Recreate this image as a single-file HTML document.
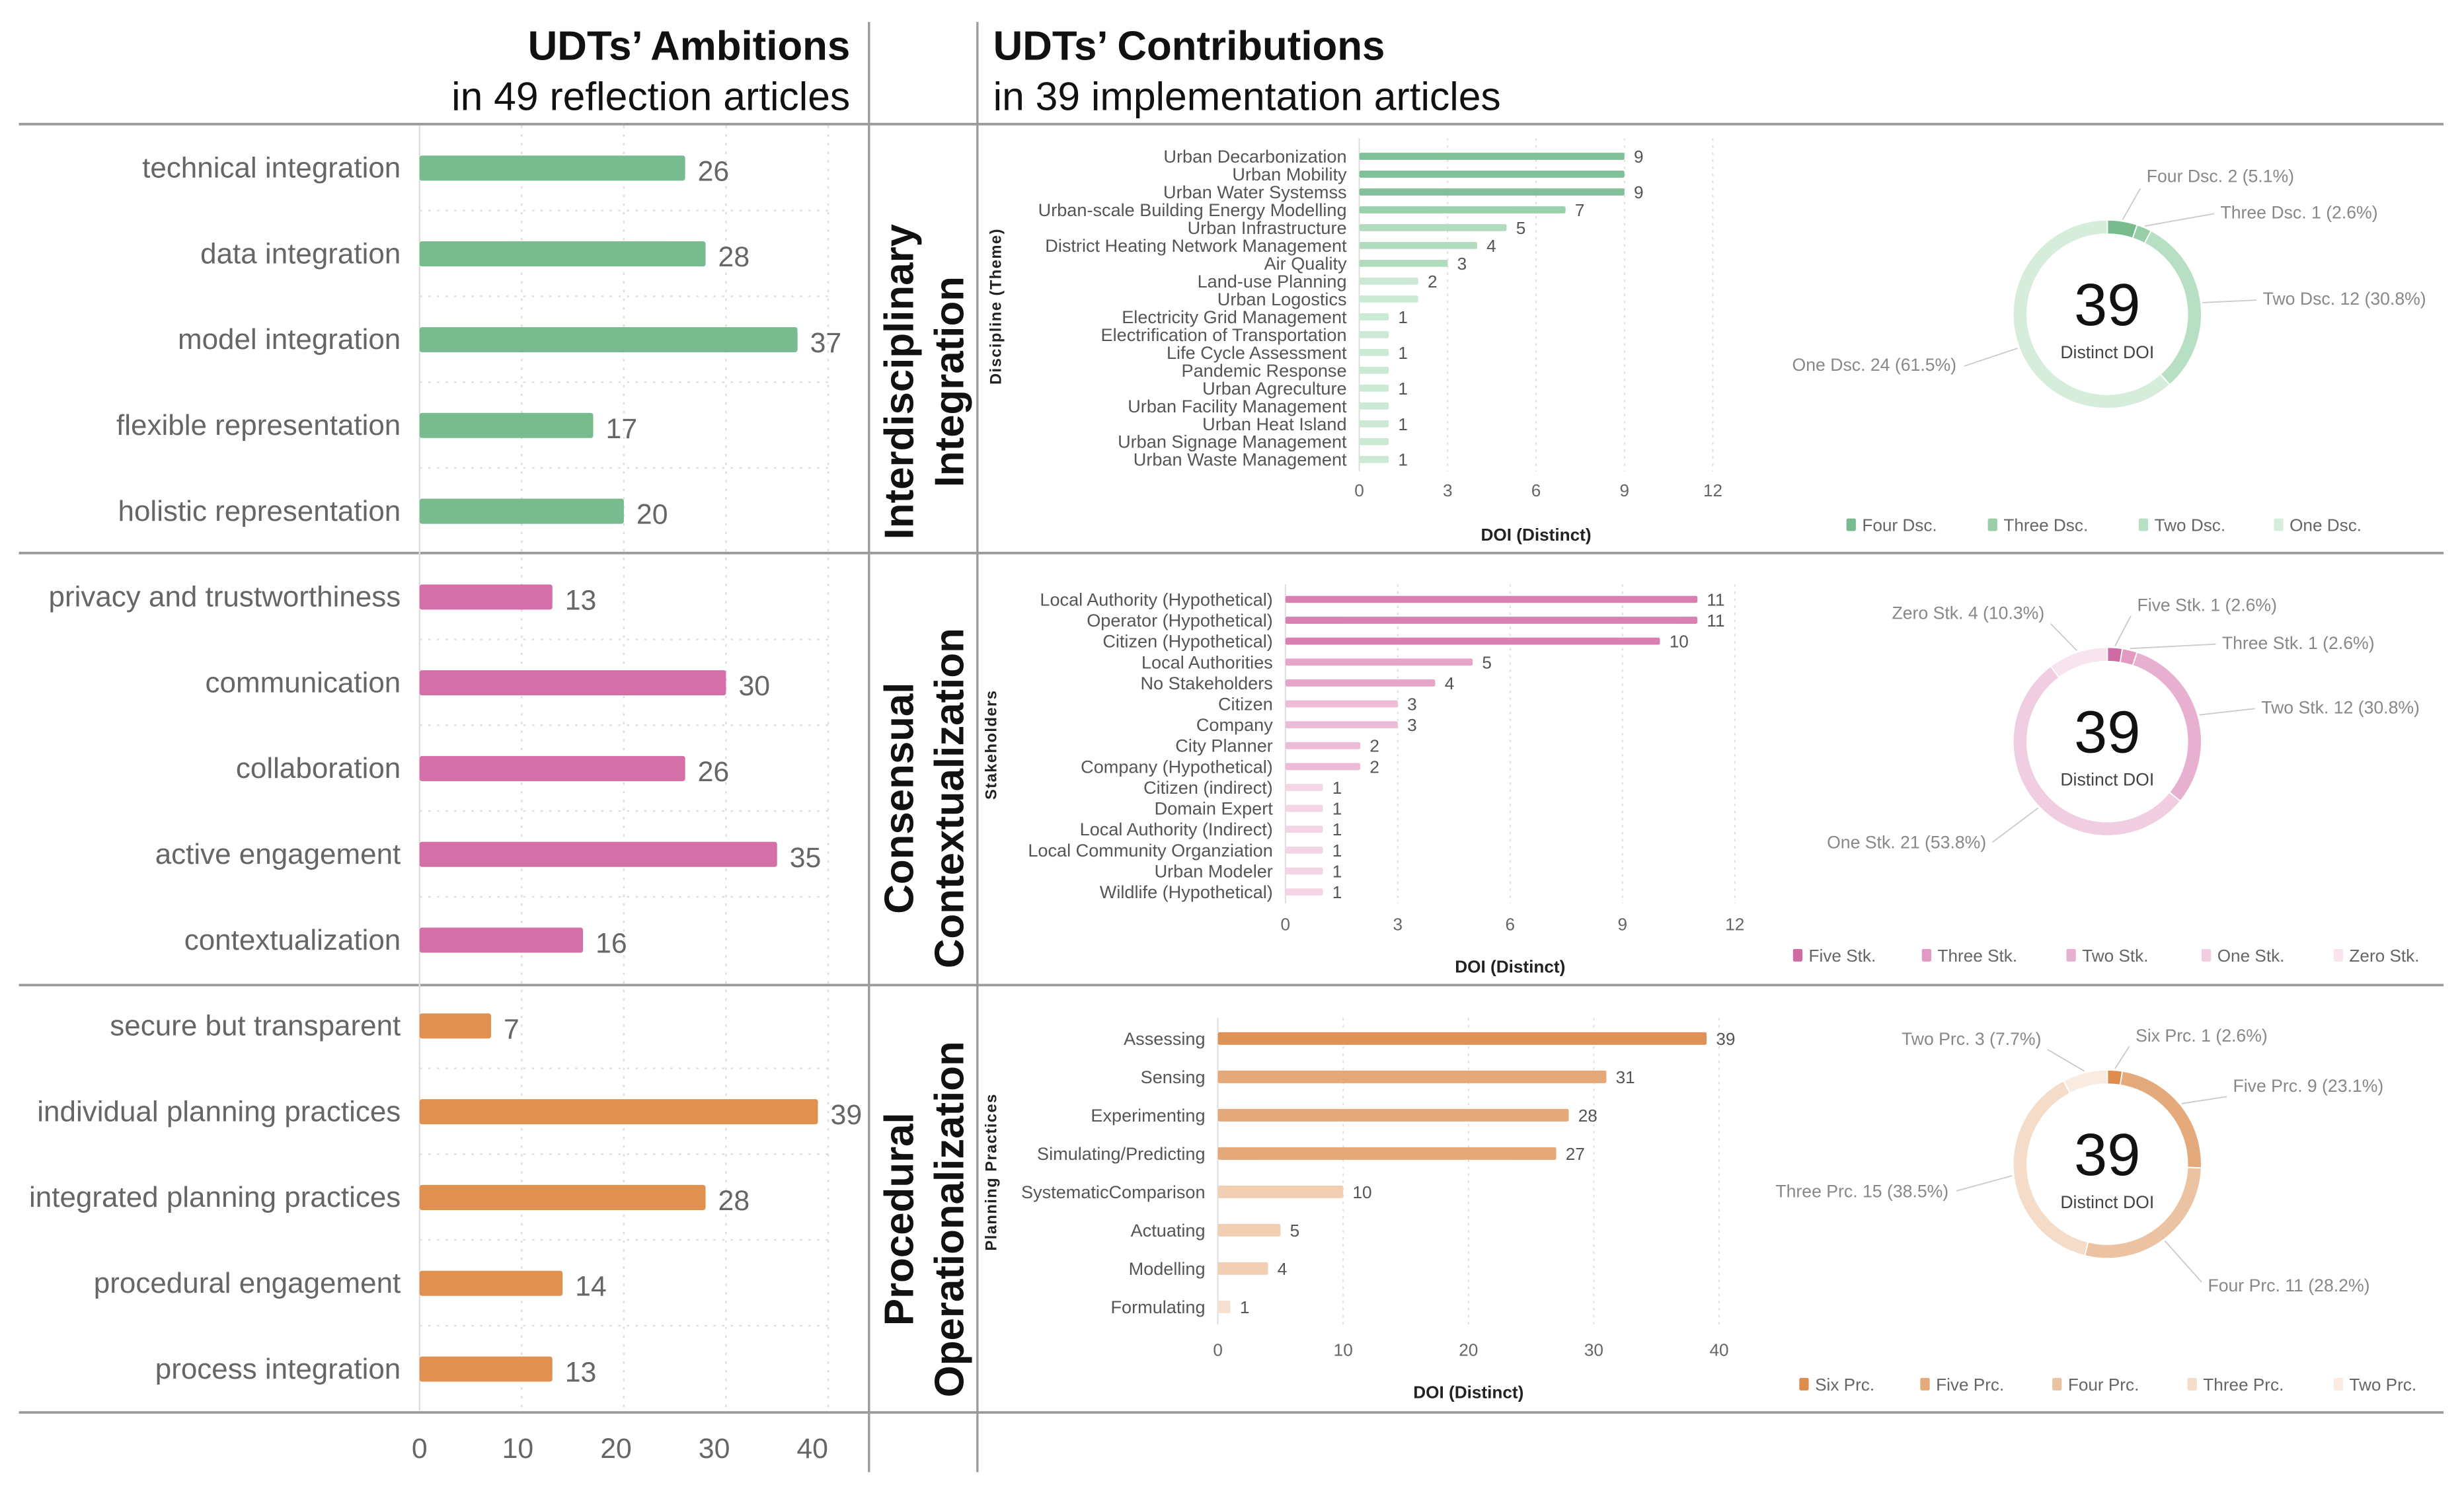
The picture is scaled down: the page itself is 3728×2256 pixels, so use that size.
<!DOCTYPE html>
<html><head><meta charset="utf-8"><style>
html,body{margin:0;padding:0;background:#fff;}
svg{display:block;font-family:"Liberation Sans",sans-serif;}
</style></head><body>
<svg id="c" width="3728" height="2256" viewBox="0 0 1568 949" preserveAspectRatio="none" xmlns="http://www.w3.org/2000/svg">
<g id="frame">
<line x1="12" y1="79" x2="1555" y2="79" stroke="#9a9a9a" stroke-width="1.6"/>
<line x1="12" y1="352" x2="1555" y2="352" stroke="#9a9a9a" stroke-width="1.6"/>
<line x1="12" y1="627" x2="1555" y2="627" stroke="#9a9a9a" stroke-width="1.6"/>
<line x1="12" y1="899" x2="1555" y2="899" stroke="#9a9a9a" stroke-width="1.6"/>
<line x1="553" y1="14" x2="553" y2="937" stroke="#9a9a9a" stroke-width="1.4"/>
<line x1="622" y1="14" x2="622" y2="937" stroke="#9a9a9a" stroke-width="1.4"/>
</g>
<text x="541" y="38" text-anchor="end" font-size="26" font-weight="bold" fill="#111">UDTs’ Ambitions</text>
<text x="541" y="70" text-anchor="end" font-size="25.5" fill="#111">in 49 reflection articles</text>
<text x="632" y="38" font-size="26" font-weight="bold" fill="#111">UDTs’ Contributions</text>
<text x="632" y="70" font-size="25.5" fill="#111">in 39 implementation articles</text>
<g font-size="26" font-weight="bold" fill="#111">
<text transform="translate(581,243) rotate(-90)" text-anchor="middle">Interdisciplinary</text>
<text transform="translate(613,243) rotate(-90)" text-anchor="middle">Integration</text>
<text transform="translate(581,508) rotate(-90)" text-anchor="middle">Consensual</text>
<text transform="translate(613,508) rotate(-90)" text-anchor="middle">Contextualization</text>
<text transform="translate(581,776) rotate(-90)" text-anchor="middle">Procedural</text>
<text transform="translate(613,776) rotate(-90)" text-anchor="middle">Operationalization</text>
</g>
</svg>
<script>
// ---- Left chart data ----
const ambCats = ["technical integration","data integration","model integration","flexible representation","holistic representation","privacy and trustworthiness","communication","collaboration","active engagement","contextualization","secure but transparent","individual planning practices","integrated planning practices","procedural engagement","process integration"];
const ambValues = [26,28,37,17,20,13,30,26,35,16,7,39,28,14,13];
const ambGroup = [0,0,0,0,0,1,1,1,1,1,2,2,2,2,2];
const ambTicks = [0,10,20,30,40];

// ---- Panel 1 data ----
const discCats = ["Urban Decarbonization","Urban Mobility","Urban Water Systemss","Urban-scale Building Energy Modelling","Urban Infrastructure","District Heating Network Management","Air Quality","Land-use Planning","Urban Logostics","Electricity Grid Management","Electrification of Transportation","Life Cycle Assessment","Pandemic Response","Urban Agreculture","Urban Facility Management","Urban Heat Island","Urban Signage Management","Urban Waste Management"];
const discValues = [9,9,9,7,5,4,3,2,2,1,1,1,1,1,1,1,1,1];
const discShow = [1,0,1,1,1,1,1,1,0,1,0,1,0,1,0,1,0,1];
const discTicks = [0,3,6,9,12];
const discDonutLabels = ["Four Dsc.","Three Dsc.","Two Dsc.","One Dsc."];
const discDonutValues = [2,1,12,24];

// ---- Panel 2 data ----
const stkCats = ["Local Authority (Hypothetical)","Operator (Hypothetical)","Citizen (Hypothetical)","Local Authorities","No Stakeholders","Citizen","Company","City Planner","Company (Hypothetical)","Citizen (indirect)","Domain Expert","Local Authority (Indirect)","Local Community Organziation","Urban Modeler","Wildlife (Hypothetical)"];
const stkValues = [11,11,10,5,4,3,3,2,2,1,1,1,1,1,1];
const stkTicks = [0,3,6,9,12];
const stkDonutLabels = ["Five Stk.","Three Stk.","Two Stk.","One Stk.","Zero Stk."];
const stkDonutValues = [1,1,12,21,4];

// ---- Panel 3 data ----
const prcCats = ["Assessing","Sensing","Experimenting","Simulating/Predicting","SystematicComparison","Actuating","Modelling","Formulating"];
const prcValues = [39,31,28,27,10,5,4,1];
const prcTicks = [0,10,20,30,40];
const prcDonutLabels = ["Six Prc.","Five Prc.","Four Prc.","Three Prc.","Two Prc."];
const prcDonutValues = [1,9,11,15,3];

const NS="http://www.w3.org/2000/svg";
const svg=document.getElementById('c');
function mk(tag,attrs,parent,text){const e=document.createElementNS(NS,tag);for(const k in attrs)e.setAttribute(k,attrs[k]);if(text!==undefined)e.textContent=text;(parent||svg).appendChild(e);return e;}

// ---- Left chart ----
(function(){
 const g=mk('g',{});
 
 
 const x0=267,x1=527,tmax=40;const sx=v=>x0+(x1-x0)*v/tmax;
 const y=i=>107+i*54.6;
 const cols=["#78bb8f","#d46fa7","#e0914f"];
 ambTicks.forEach(t=>{
  if(t>0){const l=mk('line',{x1:sx(t),x2:sx(t),y1:80,y2:898,stroke:'#ddd','stroke-dasharray':'1.5 4','stroke-width':1},g);
  }
  const tx=mk('text',{x:sx(t)-t*0.25,y:928,'text-anchor':'middle','font-size':18,fill:'#666'},g,String(t));
  
 });
 const ax=mk('line',{x1:x0,x2:x0,y1:80,y2:898,stroke:'#ddd','stroke-width':1},g);
 
 ambCats.forEach((c,i)=>{
  if(i%5!==4){const h=mk('line',{x1:x0,x2:x1,y1:y(i)+27,y2:y(i)+27,stroke:'#ddd','stroke-dasharray':'1.5 4'},g);
  }
  const lb=mk('text',{x:255,y:y(i)+6,'text-anchor':'end','font-size':18.5,fill:'#666'},g,c);
  
  const b=mk('rect',{x:x0,y:y(i)-8,width:sx(ambValues[i])-x0,height:16,rx:1.5,fill:cols[ambGroup[i]]},g);
  
  const v=mk('text',{x:sx(ambValues[i])+8,y:y(i)+8,'font-size':18,fill:'#666'},g,String(ambValues[i]));
  
 });
})();

function barPanel(o){
 const g=mk('g',{});
 
 
 const sx=v=>o.x0+(o.x1-o.x0)*v/o.tmax;
 const y=i=>o.y0+i*o.step;
 o.ticks.forEach(t=>{
  if(t>0){const l=mk('line',{x1:sx(t),x2:sx(t),y1:o.gy0,y2:o.gy1,stroke:'#ddd','stroke-dasharray':'1.5 3','stroke-width':0.8},g);
  }
  const tx=mk('text',{x:sx(t),y:o.tickY,'text-anchor':'middle','font-size':11,fill:'#666'},g,String(t));
  
 });
 const ax=mk('line',{x1:o.x0,x2:o.x0,y1:o.gy0,y2:o.gy1,stroke:'#ddd','stroke-width':0.8},g);
 
 o.cats.forEach((c,i)=>{
  const lb=mk('text',{x:o.x0-8,y:y(i)+4,'text-anchor':'end','font-size':11.4,fill:'#555'},g,c);
  
  const b=mk('rect',{x:o.x0,y:y(i)-o.bh/2,width:Math.max(sx(o.vals[i])-o.x0,0),height:o.bh,rx:1,fill:o.color(o.vals[i])},g);
  
  if(!o.show||o.show[i]){const v=mk('text',{x:sx(o.vals[i])+6,y:y(i)+4,'font-size':11,fill:'#555'},g,String(o.vals[i]));
  }
 });
 const t=mk('text',{x:(o.x0+o.x1)/2,y:o.titleY,'text-anchor':'middle','font-size':11,'font-weight':'bold',fill:'#222'},g,'DOI (Distinct)');
 
 const yt=mk('text',{transform:`translate(${o.ytX},${o.ytY}) rotate(-90)`,'text-anchor':'middle','font-size':10,'font-weight':'bold','letter-spacing':0.6,fill:'#222'},g,o.ytitle);
 
}

barPanel({name:'discipline-bar-chart',cats:discCats,vals:discValues,show:discShow,ticks:discTicks,tmax:12,x0:865,x1:1090,y0:99.5,step:11.35,bh:4.5,gy0:88,gy1:300,tickY:316,titleY:344,ytitle:'Discipline (Theme)',ytX:637,ytY:195,
 color:v=>v>=8?'#80c199':v>=6?'#9bd0ac':v>=3?'#b0dcbd':'#cbe9d4'});
barPanel({name:'stakeholder-bar-chart',cats:stkCats,vals:stkValues,ticks:stkTicks,tmax:12,x0:818,x1:1104,y0:381.5,step:13.3,bh:4.5,gy0:372,gy1:575,tickY:592,titleY:619,ytitle:'Stakeholders',ytX:634,ytY:474,
 color:v=>v>=10?'#d97fb1':v>=4?'#e6a6ca':v>=2?'#ecbcd7':'#f3d5e6'});
barPanel({name:'planning-practices-bar-chart',cats:prcCats,vals:prcValues,ticks:prcTicks,tmax:40,x0:775,x1:1094,y0:661,step:24.4,bh:8,gy0:648,gy1:843,tickY:863,titleY:890,ytitle:'Planning Practices',ytX:634,ytY:746,
 color:v=>v>=35?'#e09256':v>=20?'#e5a878':v>=3?'#f1cfb3':'#f6e0ce'});

function donut(o){
 const g=mk('g',{});
 
 
 const tot=o.vals.reduce((a,b)=>a+b,0);
 const R=o.r, w=o.w;
 let a=0;
 o.vals.forEach((v,i)=>{
  const a0=a/tot*2*Math.PI, a1=(a+v)/tot*2*Math.PI; a+=v;
  const p=(ang,r)=>[o.cx+r*Math.sin(ang),o.cy-r*Math.cos(ang)];
  const [x0,y0]=p(a0,R),[x1,y1]=p(a1,R),[x2,y2]=p(a1,R-w),[x3,y3]=p(a0,R-w);
  const large=(a1-a0)>Math.PI?1:0;
  const s=mk('path',{d:`M${x0},${y0}A${R},${R} 0 ${large} 1 ${x1},${y1}L${x2},${y2}A${R-w},${R-w} 0 ${large} 0 ${x3},${y3}Z`,fill:o.colors[i],stroke:'#fff','stroke-width':0.8},g);
  
  const L=o.lab[i];
  const mid=(a0+a1)/2;const [mx,my]=p(mid,R+1);
  const ln=mk('line',{x1:mx,y1:my,x2:L[2],y2:L[3],stroke:'#ccc','stroke-width':0.8},g);
  
  const pct=(v/tot*100).toFixed(1);
  const tx=mk('text',{x:L[0],y:L[1],'text-anchor':L[4]?'end':'start','font-size':11.2,fill:'#888'},g,`${o.labels[i]} ${v} (${pct}%)`);
  
 });
 const n=mk('text',{x:o.cx,y:o.cy+7,'text-anchor':'middle','font-size':38,fill:'#111'},g,String(tot));
 
 const d=mk('text',{x:o.cx,y:o.cy+28,'text-anchor':'middle','font-size':11.2,fill:'#444'},g,'Distinct DOI');
 
 o.labels.forEach((l,i)=>{
  const r=mk('rect',{x:o.legX[i],y:o.legY-8,width:6,height:8,rx:1,fill:o.colors[i]},g);
  
  const t=mk('text',{x:o.legX[i]+10,y:o.legY,'font-size':11,fill:'#666'},g,l);
  
 });
}
donut({name:'discipline-donut',cx:1341,cy:200,r:60,w:9,vals:discDonutValues,labels:discDonutLabels,
 colors:['#78bb8f','#98cfa9','#b7dfc3','#d6eddc'],
 lab:[[1366,116,1362,120,0],[1413,139,1409,136,0],[1440,194,1436,191,0],[1245,236,1250,233,1]],
 legX:[1175,1265,1361,1447],legY:338});
donut({name:'stakeholder-donut',cx:1341,cy:472,r:60,w:9,vals:stkDonutValues,labels:stkDonutLabels,
 colors:['#d06aa3','#e29ac3','#e8b0d0','#f0cde1','#f7e4ee'],
 lab:[[1360,389,1356,392,0],[1414,413,1410,410,0],[1439,454,1435,451,0],[1264,540,1268,536,1],[1301,394,1305,397,1]],
 legX:[1141,1223,1315,1401,1485],legY:612});
donut({name:'planning-practices-donut',cx:1341,cy:741,r:60,w:9,vals:prcDonutValues,labels:prcDonutLabels,
 colors:['#df8c4c','#e5aa7b','#ecc3a2','#f4dcc8','#f9ebe0'],
 lab:[[1359,663,1355,666,0],[1421,695,1417,698,0],[1405,822,1401,816,0],[1240,762,1245,758,1],[1299,665,1303,668,1]],
 legX:[1145,1222,1306,1392,1485],legY:885});
</script>
</body></html>
